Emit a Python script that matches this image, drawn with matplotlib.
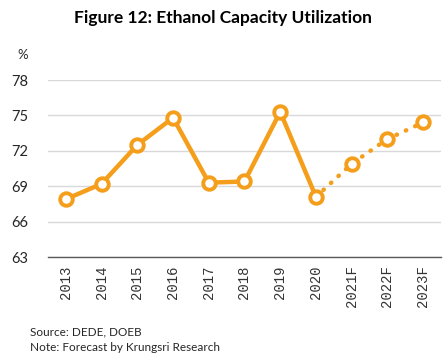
import matplotlib
matplotlib.use('Agg')
import matplotlib.pyplot as plt

# data
years = ['2013', '2014', '2015', '2016', '2017', '2018', '2019', '2020', '2021F', '2022F', '2023F']
utilization = [67.9, 69.2, 72.5, 74.8, 69.3, 69.4, 75.3, 68.1, 70.9, 73.0, 74.4]
n_actual = 8  # 2013-2020 are actual, rest is forecast
y_ticks = [63, 66, 69, 72, 75, 78]

orange = '#F59E1B'
plt.rcParams['font.family'] = ['Lato', 'DejaVu Sans']

fig = plt.figure(figsize=(4.46, 3.62), dpi=100)
ax = fig.add_axes([0.1076, 0.29, 0.8812, 0.489])

x = list(range(len(years)))
# actual line
ax.plot(x[:n_actual], utilization[:n_actual], color=orange, lw=3.2,
        solid_capstyle='round', solid_joinstyle='round', zorder=3)
# forecast dotted line
ax.plot(x[n_actual - 1:], utilization[n_actual - 1:], color=orange, lw=3.2,
        linestyle=(0, (0.1, 2.2)), dash_capstyle='round', zorder=3)
# markers
ax.plot(x, utilization, linestyle='none', marker='o', ms=9, mfc='white',
        mec=orange, mew=2.8, zorder=4)

ax.set_xlim(-0.5, len(years) - 0.5)
ax.set_ylim(63, 78)
ax.set_yticks(y_ticks)
ax.set_xticks(x)
ax.set_xticklabels(years, rotation=90, family='Liberation Mono', fontsize=10)
ax.tick_params(axis='both', length=0, colors='#333333')
ax.tick_params(axis='y', labelsize=10.5, pad=14, labelcolor='#262626')
ax.tick_params(axis='x', pad=6)
ax.grid(axis='y', color='#D9D9D9', lw=1)
ax.set_axisbelow(True)
for side in ['top', 'right', 'left']:
    ax.spines[side].set_visible(False)
ax.spines['bottom'].set_color('#595959')
ax.spines['bottom'].set_linewidth(1)

fig.text(0.5, 0.95, 'Figure 12: Ethanol Capacity Utilization', ha='center', va='center',
         fontsize=12.5, fontweight='bold', color='black')
fig.text(0.05, 0.848, '%', ha='center', va='center', fontsize=9.5, color='#262626')
fig.text(0.067, 0.083, 'Source: DEDE, DOEB', ha='left', va='center', fontsize=8.5, color='#262626')
fig.text(0.067, 0.04, 'Note: Forecast by Krungsri Research', ha='left', va='center',
         fontsize=8.5, color='#262626')

fig.savefig('out.png', dpi=100)
